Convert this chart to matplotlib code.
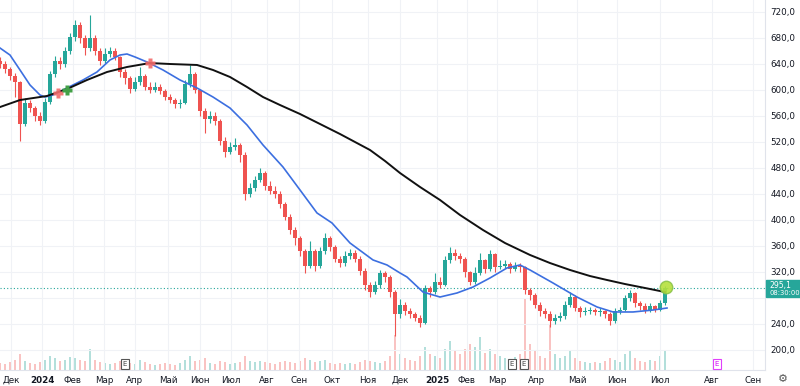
import matplotlib
matplotlib.use('Agg')
import matplotlib.pyplot as plt
import matplotlib.transforms as mtransforms
from matplotlib.patches import Rectangle
import numpy as np

plt.rcParams['font.family'] = ['DejaVu Sans']

# ---------------- data ----------------
first_open = 645
close = [640, 632, 622, 612, 548, 580, 572, 560, 552, 582,
         625, 645, 640, 660, 682, 700, 680, 665, 680, 660,
         645, 655, 660, 650, 628, 618, 602, 612, 622, 605,
         600, 605, 598, 590, 585, 578, 580, 610, 625, 600,
         568, 555, 560, 552, 522, 505, 512, 515, 500, 440,
         450, 462, 472, 452, 445, 440, 425, 405, 385, 372,
         352, 330, 352, 330, 352, 372, 358, 340, 334, 345,
         350, 340, 322, 300, 290, 300, 318, 312, 290, 255,
         270, 260, 255, 250, 242, 295, 290, 305, 300, 338,
         350, 345, 340, 320, 305, 318, 338, 325, 348, 328,
         330, 332, 325, 330, 328, 292, 285, 270, 260, 256,
         245, 250, 252, 270, 282, 265, 258, 260, 262, 258,
         260, 255, 245, 260, 262, 280, 288, 272, 268, 262,
         268, 262, 272, 295.1]
high = [650, 644, 636, 626, 614, 588, 584, 576, 566, 588,
        630, 652, 650, 666, 688, 708, 704, 684, 715, 684,
        664, 665, 666, 664, 652, 632, 622, 620, 635, 625,
        612, 612, 610, 602, 594, 588, 586, 615, 638, 628,
        602, 572, 568, 566, 556, 528, 520, 526, 518, 504,
        457, 468, 480, 476, 460, 452, 444, 428, 410, 390,
        376, 356, 368, 355, 358, 380, 375, 362, 345, 352,
        356, 354, 344, 326, 304, 306, 323, 322, 315, 292,
        278, 274, 264, 258, 254, 300, 298, 318, 312, 345,
        358, 355, 350, 343, 322, 328, 349, 340, 354, 350,
        338, 338, 335, 336, 334, 330, 296, 288, 274, 264,
        260, 256, 258, 276, 290, 284, 268, 266, 266, 265,
        264, 262, 258, 265, 266, 285, 292, 289, 276, 272,
        272, 270, 277, 298]
low = [634, 626, 616, 590, 522, 544, 566, 552, 546, 550,
       578, 620, 632, 636, 655, 676, 672, 654, 660, 654,
       638, 642, 650, 646, 620, 610, 595, 598, 608, 600,
       596, 597, 594, 584, 580, 572, 572, 578, 605, 596,
       560, 534, 550, 546, 515, 497, 502, 508, 490, 431,
       436, 445, 458, 446, 440, 434, 418, 400, 378, 362,
       345, 318, 326, 322, 326, 348, 352, 335, 328, 330,
       340, 336, 316, 292, 282, 286, 296, 305, 282, 222,
       250, 254, 249, 244, 235, 240, 282, 286, 296, 298,
       334, 338, 334, 312, 300, 302, 315, 318, 322, 320,
       324, 326, 318, 322, 320, 286, 277, 264, 252, 250,
       235, 240, 245, 248, 266, 260, 251, 254, 256, 254,
       252, 250, 238, 242, 256, 260, 276, 266, 262, 257,
       258, 258, 260, 270]
volume = [6, 5, 7, 9, 14, 8, 6, 5, 7, 9,
          12, 10, 8, 9, 11, 10, 9, 8, 18, 9,
          7, 6, 5, 6, 8, 7, 6, 5, 9, 7,
          5, 4, 5, 6, 5, 4, 6, 9, 12, 8,
          9, 10, 6, 5, 8, 7, 5, 6, 7, 12,
          8, 7, 8, 7, 6, 5, 7, 8, 7, 6,
          8, 10, 9, 7, 8, 9, 6, 5, 6, 5,
          6, 5, 7, 9, 8, 7, 6, 8, 12, 30,
          14, 10, 9, 8, 12, 20, 14, 12, 10, 18,
          25, 16, 14, 18, 22, 20, 28, 15, 18, 14,
          12, 10, 9, 11, 14, 62, 22, 16, 12, 10,
          40, 14, 10, 12, 16, 10, 8, 7, 6, 7,
          6, 8, 10, 9, 7, 14, 16, 10, 8, 7,
          9, 8, 12, 16]

# moving averages (sampled points: candle index, price)
ma_fast_x = [0, 2, 4, 6, 8, 9, 10.6, 13.4, 16.6, 19.4, 22, 24, 25.4, 27, 29.4, 32.6,
             36, 39.4, 42.6, 46, 49.4, 52.6, 56.6, 60, 63.4, 66.4, 70, 74.6, 77.4, 80,
             81.4, 84.6, 88, 91.4, 94.6, 98, 101.4, 104, 106, 110.6, 115.4, 119.4,
             122.6, 126.6, 130.6, 133.4]
ma_fast = [664.6, 653.8, 630.8, 607.7, 592.3, 589.2, 592.3, 603.1, 615.4, 627.7, 646.2,
           653.8, 655.4, 650.8, 643.1, 630.8, 615.4, 603.1, 589.2, 572.3, 546.2, 515.4,
           481.5, 446.2, 410.8, 395.4, 364.6, 338.5, 330.8, 318.5, 312.3, 289.2, 281.5,
           287.7, 296.9, 310.8, 326.2, 330.8, 323.1, 303.1, 281.5, 266.2, 258.5, 258.5,
           261.5, 264.6]
ma_slow_x = [0, 4, 9.4, 13.4, 17.4, 21.4, 25.4, 30, 34, 39.4, 42.6, 46, 49.4, 52.6,
             56, 60, 64, 68, 71, 74, 77, 80, 84, 88, 92, 96.6, 101, 106, 110, 114, 118,
             121.4, 125, 129, 133]
ma_slow = [573.8, 584.6, 590.8, 601.5, 615.4, 627.7, 635.4, 641.5, 640, 638.5, 630.8,
           620, 604.6, 589.2, 576.9, 563.1, 547.7, 532.3, 520, 507.7, 490.8, 472.3,
           450.8, 430.8, 407.7, 384.6, 364.6, 346.2, 333.8, 323.1, 313.8, 307.7,
           301.5, 295.4, 289.2]

cross_red = [(11.6, 595), (30, 641.5)]
cross_green = [(13.4, 600)]
last_price = 295.1
last_time = '08:30:00'
earnings_grey = [25, 102.4, 104.8]
earnings_purple = [143.4]

month_pos = [2.2, 8.4, 14.6, 20.8, 27, 33.6, 40, 46.2, 53.4, 59.8, 66.4, 73.6, 80,
             87.4, 93.4, 99.4, 107.4, 115.4, 123.4, 132, 142.4, 150.6]
month_labels = ['Дек', '2024', 'Фев', 'Мар', 'Апр', 'Май', 'Июн', 'Июл', 'Авг', 'Сен',
                'Окт', 'Ноя', 'Дек', '2025', 'Фев', 'Мар', 'Апр', 'Май', 'Июн', 'Июл',
                'Авг', 'Сен']
price_ticks = [200, 240, 320, 360, 400, 440, 480, 520, 560, 600, 640, 680, 720]
grid_levels = [200, 240, 280, 320, 360, 400, 440, 480, 520, 560, 600, 640, 680, 720]

# ---------------- figure ----------------
W, H = 800, 386
fig = plt.figure(figsize=(W / 100, H / 100), dpi=100)
fig.patch.set_facecolor('white')
ax = fig.add_axes([0, (H - 370) / H, 765 / W, 370 / H])
vax = ax.twinx()
ax.set_zorder(vax.get_zorder() + 1)
ax.patch.set_visible(False)

UP = '#26a69a'
DN = '#ef5350'

n = len(close)
idx = np.arange(n)
opens = [first_open] + close[:-1]
colors = [UP if c >= o else DN for o, c in zip(opens, close)]

# volume
vax.bar(idx, volume, width=0.45, color=colors, alpha=0.35, linewidth=0)
vax.set_ylim(0, max(volume) * 370 / 72)
vax.set_yticks([])
for s in vax.spines.values():
    s.set_visible(False)

# grid
for g in grid_levels:
    ax.axhline(g, color='#f0f2f6', lw=0.8, zorder=0)
for m in month_pos:
    ax.axvline(m, color='#f0f2f6', lw=0.8, zorder=0)

# candles
ax.vlines(idx, low, high, colors=colors, lw=0.8, zorder=2)
bottoms = [min(o, c) for o, c in zip(opens, close)]
heights = [max(abs(c - o), 0.8) for o, c in zip(opens, close)]
ax.bar(idx, heights, bottom=bottoms, width=0.65, color=colors, linewidth=0, zorder=3)

# moving averages
ax.plot(ma_fast_x, ma_fast, color='#3c6fe0', lw=1.2, zorder=4, solid_joinstyle='round')
ax.plot(ma_slow_x, ma_slow, color='#111111', lw=1.4, zorder=4, solid_joinstyle='round')

# last price line
ax.axhline(last_price, color='#26a69a', lw=0.8, ls=(0, (1, 2)), zorder=1)

# cross markers
for x, y in cross_red:
    ax.plot(x, y, marker='P', ms=7, color='#f26b6b', mec='none', alpha=0.9, zorder=5)
for x, y in cross_green:
    ax.plot(x, y, marker='P', ms=7, color='#43a047', mec='none', zorder=5)

# last candle highlight
ax.plot(133.2, 296.5, 'o', ms=9, mfc='#b5e03c', mec='#8bc34a', alpha=0.9, zorder=6)

# earnings markers
trans = mtransforms.blended_transform_factory(ax.transData, ax.transAxes)
for x in earnings_grey:
    ax.text(x, 0.017, 'E', transform=trans, ha='center', va='center', fontsize=5,
            color='#444444', zorder=7,
            bbox=dict(boxstyle='square,pad=0.3', fc='white', ec='#555555', lw=0.8))
for x in earnings_purple:
    ax.text(x, 0.017, 'E', transform=trans, ha='center', va='center', fontsize=5,
            color='#d500f9', zorder=7,
            bbox=dict(boxstyle='square,pad=0.3', fc='white', ec='#e040fb', lw=0.8))

# axes
ax.set_xlim(0, 153)
ax.set_ylim(720 - 358 / 0.65, 720 + 12 / 0.65)
ax.yaxis.tick_right()
ax.set_yticks(price_ticks)
ax.set_yticklabels([f'{p:.1f}'.replace('.', ',') for p in price_ticks])
ax.tick_params(axis='y', length=0, pad=4, labelsize=6.3, labelcolor='#131722')
ax.set_xticks(month_pos)
ax.set_xticklabels(month_labels)
ax.tick_params(axis='x', length=0, pad=4, labelsize=6.3, labelcolor='#131722')
for lab in ax.get_xticklabels():
    if lab.get_text() in ('2024', '2025'):
        lab.set_fontweight('bold')
for k, s in ax.spines.items():
    s.set_visible(k in ('right', 'bottom'))
    s.set_color('#e0e3eb')
    s.set_linewidth(0.8)

# price label on the axis
ypix = ax.transData.transform((0, last_price))[1]
fig.add_artist(Rectangle((766 / W, (ypix - 9) / H), 34 / W, 17 / H,
                         transform=fig.transFigure, color='#26a69a', zorder=10))
fig.text(769 / W, (ypix + 3) / H, f'{last_price:.1f}'.replace('.', ','), color='white',
         fontsize=5.6, va='center', ha='left', zorder=11)
fig.text(769 / W, (ypix - 4.5) / H, last_time, color='white', fontsize=4.9,
         va='center', ha='left', zorder=11)

# settings gear
fig.text(783 / W, (H - 379) / H, '⚙', fontsize=8, color='#555555', ha='center', va='center')

fig.savefig('out.png', dpi=100, facecolor='white')
